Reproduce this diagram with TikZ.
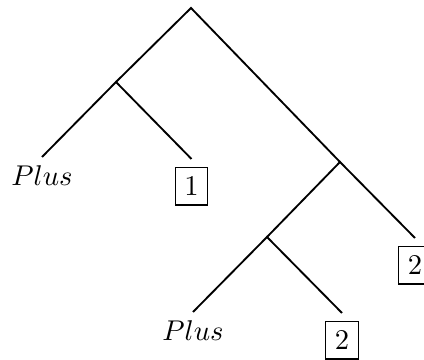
\documentclass[tikz,border=0pt]{standalone}
\begin{document}
\begin{tikzpicture}[x=0.35pt,y=-0.35pt,
  branch/.style={line width=0.65pt},
  leaf/.style={anchor=north,inner sep=2.8pt},
  boxleaf/.style={anchor=north,draw,line width=0.5pt,inner sep=3.2pt,outer sep=3pt}]
  \useasboundingbox (0,0) rectangle (424,360);
  % inner vertices of the tree
  \coordinate (r) at (191,8);
  \coordinate (a) at (116,82);
  \coordinate (b) at (340,162);
  \coordinate (c) at (267,237);
  % leaves
  \node[leaf] (p1) at (42,157) {$Plus$};
  \node[boxleaf] (n1) at (191.5,159) {1};
  \node[boxleaf] (n2r) at (415,238) {2};
  \node[leaf] (p2) at (193,312) {$Plus$};
  \node[boxleaf] (n2l) at (342,313) {2};
  % branches
  \draw[branch] (a) -- (r) -- (b);
  \draw[branch] (p1.north) -- (a) -- (n1.north);
  \draw[branch] (c) -- (b) -- (n2r.north);
  \draw[branch] (p2.north) -- (c) -- (n2l.north);
\end{tikzpicture}
\end{document}
